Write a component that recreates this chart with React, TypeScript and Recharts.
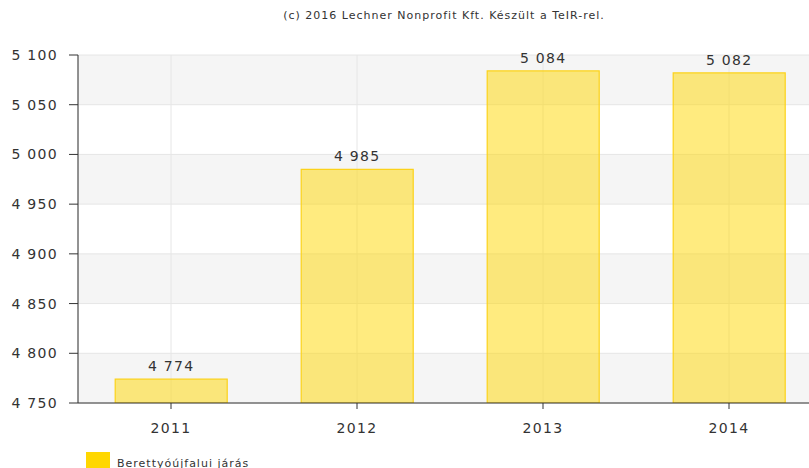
import React from "react";
import {
    BarChart,
    Bar,
    XAxis,
    YAxis,
    CartesianGrid,
    LabelList,
} from "recharts";

const years = ["2011", "2012", "2013", "2014"];
const values = [4774, 4985, 5084, 5082];
const yTicks = [4750, 4800, 4850, 4900, 4950, 5000, 5050, 5100];
const seriesName = "Berettyóújfalui járás";
const credit = "(c) 2016 Lechner Nonprofit Kft. Készült a TeIR-rel.";

const data = years.map((year, i) => ({ year, value: values[i] }));

const fmt = (v: any) => String(v).replace(/\B(?=(\d{3})+(?!\d))/g, " ");

const font = "Verdana, 'DejaVu Sans', sans-serif";
const tickStyle = { fill: "#333", fontSize: 14, fontFamily: font, letterSpacing: 1.3 };

export default function App() {
    return (
        <div
            style={{
                position: "absolute",
                left: 0,
                top: 0,
                width: 809,
                height: 468,
                overflow: "hidden",
                background: "#fff",
                fontFamily: font,
            }}
        >
            <div
                style={{
                    position: "absolute",
                    top: 9,
                    left: 0,
                    width: 888,
                    textAlign: "center",
                    fontSize: 11,
                    letterSpacing: 1,
                    color: "#333",
                }}
            >
                {credit}
            </div>
            <BarChart
                width={830}
                height={480}
                data={data}
                margin={{ top: 55, right: 8, bottom: 50, left: 0 }}
                barCategoryGap="20%"
            >
                <CartesianGrid
                    stroke="#e6e6e6"
                    horizontalFill={["#f5f5f5", "#ffffff"]}
                />
                <XAxis
                    dataKey="year"
                    axisLine={{ stroke: "#333" }}
                    tickLine={{ stroke: "#333" }}
                    tickSize={6}
                    tickMargin={14}
                    height={27}
                    tick={tickStyle}
                />
                <YAxis
                    domain={[4750, 5100]}
                    ticks={yTicks}
                    interval={0}
                    allowDataOverflow
                    width={78}
                    axisLine={{ stroke: "#333" }}
                    tickLine={{ stroke: "#333" }}
                    tickSize={9}
                    tickMargin={11}
                    tickFormatter={fmt}
                    tick={tickStyle}
                />
                <Bar
                    dataKey="value"
                    name={seriesName}
                    fill="#ffd700"
                    fillOpacity={0.5}
                    stroke="#fcd21a"
                    strokeWidth={1.2}
                    isAnimationActive={false}
                >
                    <LabelList
                        dataKey="value"
                        position="top"
                        offset={8}
                        formatter={fmt}
                        style={tickStyle}
                    />
                </Bar>
            </BarChart>
            <div
                style={{
                    position: "absolute",
                    left: 86,
                    top: 452,
                    display: "flex",
                    alignItems: "center",
                    fontSize: 11,
                    letterSpacing: 1,
                    color: "#333",
                }}
            >
                <span
                    style={{
                        display: "inline-block",
                        width: 24,
                        height: 16,
                        background: "#ffd700",
                        marginRight: 7,
                    }}
                />
                <span style={{ position: "relative", top: 3 }}>{seriesName}</span>
            </div>
        </div>
    );
}
